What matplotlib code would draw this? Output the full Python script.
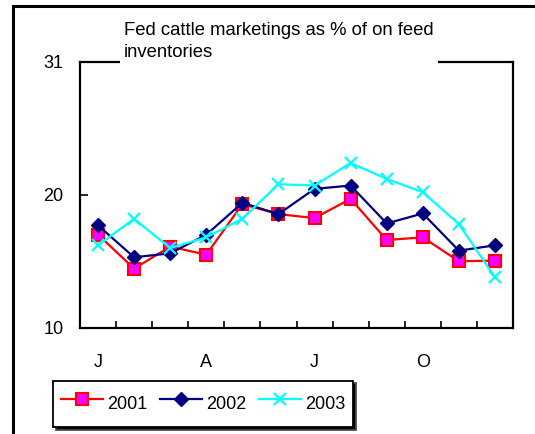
import matplotlib
matplotlib.use("Agg")
import matplotlib.pyplot as plt
from matplotlib.lines import Line2D

plt.rcParams['font.family'] = ['Liberation Sans', 'DejaVu Sans']

months = list(range(12))
month_labels = ['J', 'A', 'J', 'O']
month_label_pos = [0, 3, 6, 9]
y2001 = [17.0, 14.45, 16.1, 15.5, 19.3, 18.55, 18.25, 19.7, 16.6, 16.8, 15.0, 15.05]
y2002 = [17.7, 15.3, 15.6, 17.0, 19.4, 18.55, 20.45, 20.7, 17.85, 18.6, 15.8, 16.2]
y2003 = [16.2, 18.2, 16.0, 16.8, 18.2, 20.8, 20.7, 22.4, 21.2, 20.2, 17.8, 13.8]
ytick_vals = [10, 20, 30]
ytick_labels = ['10', '20', '31']
title = "Fed cattle marketings as % of on feed\ninventories"

fig = plt.figure(figsize=(5.35, 4.34), dpi=100)
ax = fig.add_axes([80/535, 1-327.7/434, (513-80)/535, (327.7-62)/434])

ax.plot(months, y2001, color='#FF0000', lw=1.6, marker='s', ms=8,
        mfc='#FF00FF', mec='#FF0000', mew=1.5, label='2001', clip_on=False)
ax.plot(months, y2002, color='#000080', lw=1.6, marker='D', ms=7,
        mfc='#000080', mec='#000080', label='2002', clip_on=False)
ax.plot(months, y2003, color='#00FFFF', lw=1.6, marker='x', ms=9,
        mew=1.6, label='2003', clip_on=False)

ax.set_xlim(-0.5, 11.5)
ax.set_ylim(10, 30)
ax.set_yticks(ytick_vals)
ax.set_yticklabels(ytick_labels)
ax.set_xticks(month_label_pos)
ax.set_xticklabels(month_labels)
ax.set_xticks([i + 0.5 for i in range(11)], minor=True)
ax.tick_params(axis='x', which='major', length=0, pad=19, labelsize=13)
ax.tick_params(axis='x', which='minor', direction='in', length=5, width=1.2)
ax.tick_params(axis='y', which='major', direction='in', length=6, width=1.2,
               pad=12, labelsize=13)
for s in ax.spines.values():
    s.set_linewidth(1.6)

fig.text(124/535, 1-22/434, title, fontsize=13.3, ha='left', va='top',
         linespacing=1.35,
         bbox=dict(facecolor='white', edgecolor='none', pad=3))

leg = fig.legend(loc='lower left', bbox_to_anchor=(53/535, 1-427/434),
                 ncol=3, fontsize=13, frameon=True, fancybox=False,
                 edgecolor='black', handlelength=2.3, handletextpad=0.25,
                 columnspacing=0.7, borderpad=0.45, borderaxespad=0,
                 handleheight=2.2,
                 shadow={'facecolor': 'black', 'alpha': 1})
leg.get_frame().set_linewidth(1.3)

fig.add_artist(Line2D([13/535, 13/535], [0, 1-6/434], transform=fig.transFigure,
                      color='black', lw=2.2))
fig.add_artist(Line2D([13/535, 1], [1-6/434, 1-6/434], transform=fig.transFigure,
                      color='black', lw=2.2))

fig.savefig('out.png', dpi=100)
